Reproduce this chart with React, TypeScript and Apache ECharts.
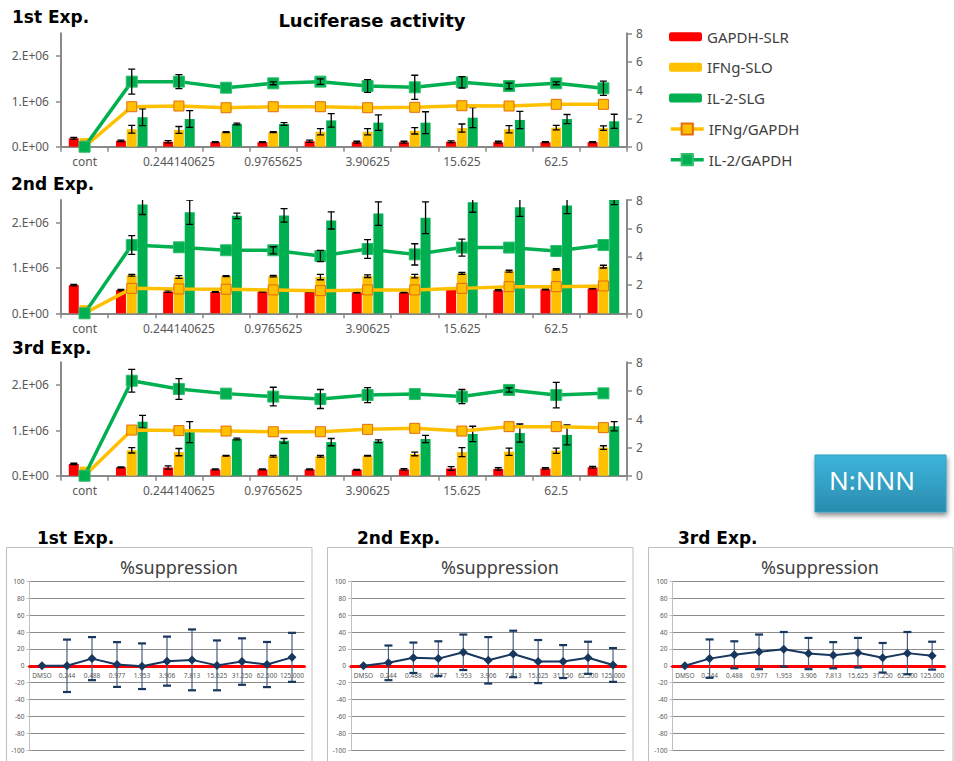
import React, { useEffect, useRef } from 'react';
import * as echarts from 'echarts';

// ---------- data ----------
const categories = ['cont', '0.1220703125', '0.244140625', '0.48828125', '0.9765625', '1.953125', '3.90625', '7.8125', '15.625', '31.25', '62.5', '125'];
const leftAxisTicks = [0, 1000000, 2000000];
const suppressionCats = ['DMSO', '0.244', '0.488', '0.977', '1.953', '3.906', '7.813', '15.625', '31.250', '62.500', '125.000'];

const exp1Gapdh = [185000, 130000, 110000, 100000, 100000, 120000, 100000, 100000, 110000, 100000, 100000, 100000];
const exp1GapdhErr = [20000, 15000, 25000, 10000, 10000, 25000, 20000, 20000, 20000, 20000, 10000, 10000];
const exp1Ifng = [190000, 385000, 370000, 320000, 320000, 330000, 330000, 350000, 410000, 385000, 420000, 410000];
const exp1IfngErr = [0, 85000, 75000, 10000, 10000, 70000, 70000, 70000, 90000, 80000, 50000, 50000];
const exp1Il2 = [0, 650000, 610000, 500000, 500000, 580000, 530000, 530000, 640000, 590000, 610000, 560000];
const exp1Il2Err = [0, 185000, 185000, 20000, 30000, 150000, 170000, 240000, 220000, 190000, 100000, 155000];
const exp1IfngRatio = [0, 2.82, 2.87, 2.75, 2.82, 2.82, 2.75, 2.78, 2.89, 2.87, 2.99, 2.99];
const exp1Il2Ratio = [0, 4.59, 4.59, 4.16, 4.47, 4.59, 4.28, 4.19, 4.54, 4.28, 4.47, 4.12];
const exp1Il2RatioErr = [0, 0.88, 0.5, 0, 0.1, 0.2, 0.45, 0.85, 0.4, 0.2, 0.1, 0.5];

const exp2Gapdh = [620000, 510000, 480000, 470000, 480000, 480000, 460000, 460000, 550000, 510000, 530000, 550000];
const exp2GapdhErr = [15000, 15000, 20000, 10000, 10000, 10000, 10000, 10000, 10000, 15000, 10000, 10000];
const exp2Ifng = [180000, 840000, 800000, 820000, 820000, 800000, 820000, 820000, 880000, 930000, 970000, 1030000];
const exp2IfngErr = [0, 20000, 30000, 10000, 15000, 60000, 30000, 40000, 20000, 20000, 15000, 30000];
const exp2Il2 = [0, 2400000, 2230000, 2150000, 2160000, 2050000, 2200000, 2110000, 2450000, 2340000, 2380000, 2600000];
const exp2Il2Err = [0, 220000, 270000, 60000, 150000, 190000, 260000, 350000, 220000, 200000, 180000, 200000];
const exp2IfngRatio = [0, 1.76, 1.72, 1.7, 1.65, 1.6, 1.65, 1.65, 1.76, 1.88, 1.88, 1.93];
const exp2Il2Ratio = [0, 4.82, 4.66, 4.45, 4.45, 4.05, 4.54, 4.16, 4.64, 4.64, 4.4, 4.82];
const exp2Il2RatioErr = [0, 0.66, 0, 0, 0.25, 0.4, 0.66, 0.75, 0.6, 0, 0, 0];

const exp3Gapdh = [260000, 185000, 180000, 140000, 140000, 140000, 130000, 140000, 160000, 150000, 160000, 185000];
const exp3GapdhErr = [15000, 10000, 35000, 10000, 10000, 10000, 10000, 15000, 40000, 25000, 15000, 20000];
const exp3Ifng = [200000, 560000, 520000, 440000, 430000, 430000, 440000, 480000, 520000, 530000, 550000, 620000];
const exp3IfngErr = [0, 60000, 80000, 10000, 20000, 20000, 10000, 40000, 100000, 80000, 60000, 40000];
const exp3Il2 = [0, 1190000, 960000, 810000, 770000, 740000, 760000, 810000, 920000, 940000, 900000, 1090000];
const exp3Il2Err = [0, 140000, 230000, 20000, 50000, 80000, 30000, 80000, 170000, 200000, 220000, 100000];
const exp3IfngRatio = [0, 3.22, 3.18, 3.15, 3.1, 3.1, 3.27, 3.34, 3.15, 3.46, 3.46, 3.39];
const exp3Il2Ratio = [0, 6.7, 6.12, 5.79, 5.58, 5.41, 5.69, 5.76, 5.58, 6.05, 5.69, 5.81];
const exp3Il2RatioErr = [0, 0.8, 0.73, 0, 0.66, 0.67, 0.53, 0, 0.5, 0.15, 0.9, 0];

const sup1 = [0, 0, 8.5, 1.5, -0.5, 5.5, 7, 0.5, 5, 1.5, 10];
const sup1Err = [0, 31, 25.5, 26.5, 27, 29, 36, 29.5, 27.5, 26.7, 29];
const sup2 = [0, 3.5, 9.5, 8.5, 16, 6.5, 14, 5, 5, 9.5, 1];
const sup2Err = [0, 20.5, 18, 20.5, 21, 27.5, 27.5, 25.5, 19.5, 19, 20];
const sup3 = [0, 8.5, 13, 16.5, 19.5, 14.5, 12.5, 15.5, 9.5, 15, 12];
const sup3Err = [0, 22.7, 16, 20.5, 20.5, 18.5, 15.5, 17.5, 17.5, 25, 16.5];

// ---------- styles ----------
const RED = '#FF0000';
const YEL = '#FFC000';
const GRN = '#00B050';
const AXIS = '#898989';
const LABEL = '#595959';
const NAVY = '#17375E';
const FONT = '"Noto Sans", sans-serif';
const HEAD = 'bold 17px "DejaVu Sans", sans-serif';
const BAR_W = 10;
const BAR_STEP = 10.8;

function errRender(offset: number, capHalf: number, color: string, lw: number, capLw: number, capColor: string) {
  return (params: any, api: any) => {
    const x = api.value(0);
    const v = api.value(1);
    const e = api.value(2);
    if (!e) return { type: 'group', children: [] };
    const top = api.coord([x, v + e]);
    const bot = api.coord([x, v - e]);
    const cx = top[0] + offset;
    return {
      type: 'group',
      children: [
        { type: 'line', shape: { x1: cx, y1: top[1], x2: cx, y2: bot[1] }, style: { stroke: color, lineWidth: lw } },
        { type: 'line', shape: { x1: cx - capHalf, y1: top[1], x2: cx + capHalf, y2: top[1] }, style: { stroke: capColor, lineWidth: capLw } },
        { type: 'line', shape: { x1: cx - capHalf, y1: bot[1], x2: cx + capHalf, y2: bot[1] }, style: { stroke: capColor, lineWidth: capLw } },
      ],
    };
  };
}

const toErrData = (vals: number[], errs: number[]) => vals.map((v, i) => [i, v, errs[i]]);

function expSeries(g: number, d: any) {
  const yl = g * 2;
  const yr = g * 2 + 1;
  const barBase = { type: 'bar', xAxisIndex: g, yAxisIndex: yl, barWidth: BAR_W, barGap: '8%', clip: true };
  const errBase = { type: 'custom', xAxisIndex: g, clip: true, z: 4, silent: true };
  return [
    { ...barBase, name: 'GAPDH-SLR', data: d.gapdh, itemStyle: { color: RED } },
    { ...barBase, name: 'IFNg-SLO', data: d.ifng, itemStyle: { color: YEL } },
    { ...barBase, name: 'IL-2-SLG', data: d.il2, itemStyle: { color: GRN } },
    { ...errBase, yAxisIndex: yl, data: toErrData(d.gapdh, d.gapdhErr), renderItem: errRender(-BAR_STEP, 3.5, '#000', 1.3, 1.3, '#000') },
    { ...errBase, yAxisIndex: yl, data: toErrData(d.ifng, d.ifngErr), renderItem: errRender(0, 3.5, '#000', 1.3, 1.3, '#000') },
    { ...errBase, yAxisIndex: yl, data: toErrData(d.il2, d.il2Err), renderItem: errRender(BAR_STEP, 3.5, '#000', 1.3, 1.3, '#000') },
    {
      name: 'IFNg/GAPDH', type: 'line', xAxisIndex: g, yAxisIndex: yr, data: d.ifngRatio, z: 5,
      symbol: 'rect', symbolSize: 10,
      lineStyle: { color: YEL, width: 3.5 },
      itemStyle: { color: YEL, borderColor: '#E46C0A', borderWidth: 1 },
    },
    {
      name: 'IL-2/GAPDH', type: 'line', xAxisIndex: g, yAxisIndex: yr, data: d.il2Ratio, z: 5,
      symbol: 'rect', symbolSize: 11,
      lineStyle: { color: GRN, width: 3.5 },
      itemStyle: { color: GRN, borderColor: '#2fbf6c', borderWidth: 1 },
    },
    { ...errBase, z: 6, yAxisIndex: yr, data: toErrData(d.il2Ratio, d.il2RatioErr), renderItem: errRender(0, 3.5, '#000', 1.3, 1.3, '#000') },
  ];
}

function supSeries(k: number, vals: number[], errs: number[]) {
  const gi = 3 + k;
  return [
    {
      type: 'custom', xAxisIndex: gi, yAxisIndex: 6 + k, data: toErrData(vals, errs), z: 3, silent: true,
      renderItem: errRender(0, 4, '#4a5f7d', 1.2, 2.2, NAVY),
    },
    {
      name: 'suppression ' + (k + 1), type: 'line', xAxisIndex: gi, yAxisIndex: 6 + k, data: vals, z: 4,
      symbol: 'diamond', symbolSize: 9,
      lineStyle: { color: NAVY, width: 2 }, itemStyle: { color: NAVY },
    },
  ];
}

const topGrids = [
  { left: 61, top: 33.3, width: 566, height: 113.4 },
  { left: 61, top: 200, width: 566, height: 113.3 },
  { left: 61, top: 362.3, width: 566, height: 113.4 },
];
const bottomGrids = [
  { left: 29.5, top: 581.3, width: 275, height: 169 },
  { left: 351, top: 581.3, width: 274.5, height: 169 },
  { left: 672.5, top: 581.3, width: 272, height: 169 },
];

function buildOption() {
  const xAxes: any[] = [];
  const yAxes: any[] = [];
  for (let g = 0; g < 3; g++) {
    xAxes.push({
      type: 'category', gridIndex: g, data: categories, boundaryGap: true,
      axisLine: { lineStyle: { color: AXIS, width: 2 } },
      axisTick: { show: true, interval: 0, length: 5, lineStyle: { color: AXIS, width: 1.5 } },
      axisLabel: { interval: 1, color: LABEL, fontSize: 12, margin: 9, fontFamily: FONT },
      splitLine: { show: false },
    });
  }
  for (let g = 0; g < 3; g++) {
    yAxes.push({
      type: 'value', gridIndex: g, position: 'left', min: 0, max: 2500000,
      axisLine: { show: true, lineStyle: { color: AXIS, width: 2 } },
      axisTick: { show: true, length: 5, customValues: leftAxisTicks, lineStyle: { color: AXIS, width: 1.5 } },
      axisLabel: {
        customValues: leftAxisTicks, color: LABEL, fontSize: 12, margin: 12, fontFamily: FONT,
        formatter: (v: number) => (v === 0 ? '0.E+00' : `${Math.round(v / 1000000)}.E+06`),
      },
      splitLine: { show: false },
    });
    yAxes.push({
      type: 'value', gridIndex: g, position: 'right', min: 0, max: 8, interval: 2,
      axisLine: { show: true, lineStyle: { color: AXIS, width: 2 } },
      axisTick: { show: true, length: 5, lineStyle: { color: AXIS, width: 1.5 } },
      axisLabel: { color: LABEL, fontSize: 12, margin: 9, fontFamily: FONT },
      splitLine: { show: false },
    });
  }
  for (let k = 0; k < 3; k++) {
    const h = bottomGrids[k].height;
    xAxes.push({
      type: 'category', gridIndex: 3 + k, data: suppressionCats, boundaryGap: true, z: 1,
      position: 'bottom', offset: -h / 2,
      axisLine: { onZero: false, lineStyle: { color: RED, width: 3 } },
      axisTick: { show: false },
      axisLabel: { interval: 0, color: LABEL, fontSize: 6.5, margin: 6, fontFamily: FONT },
    });
  }
  for (let k = 0; k < 3; k++) {
    yAxes.push({
      type: 'value', gridIndex: 3 + k, min: -100, max: 100, interval: 20, z: 0,
      axisLine: { show: true, lineStyle: { color: '#c0c0c0', width: 1 } },
      axisTick: { show: true, length: 3, lineStyle: { color: '#c0c0c0' } },
      axisLabel: { color: LABEL, fontSize: 6.5, margin: 5, fontFamily: FONT },
      splitLine: { show: true, lineStyle: { color: '#8c8c8c', width: 1 } },
    });
  }

  const exps = [
    { gapdh: exp1Gapdh, gapdhErr: exp1GapdhErr, ifng: exp1Ifng, ifngErr: exp1IfngErr, il2: exp1Il2, il2Err: exp1Il2Err, ifngRatio: exp1IfngRatio, il2Ratio: exp1Il2Ratio, il2RatioErr: exp1Il2RatioErr },
    { gapdh: exp2Gapdh, gapdhErr: exp2GapdhErr, ifng: exp2Ifng, ifngErr: exp2IfngErr, il2: exp2Il2, il2Err: exp2Il2Err, ifngRatio: exp2IfngRatio, il2Ratio: exp2Il2Ratio, il2RatioErr: exp2Il2RatioErr },
    { gapdh: exp3Gapdh, gapdhErr: exp3GapdhErr, ifng: exp3Ifng, ifngErr: exp3IfngErr, il2: exp3Il2, il2Err: exp3Il2Err, ifngRatio: exp3IfngRatio, il2Ratio: exp3Il2Ratio, il2RatioErr: exp3Il2RatioErr },
  ];
  const series: any[] = [];
  exps.forEach((d, g) => series.push(...expSeries(g, d)));
  series.push(...supSeries(0, sup1, sup1Err));
  series.push(...supSeries(1, sup2, sup2Err));
  series.push(...supSeries(2, sup3, sup3Err));

  const headText = (text: string, x: number, y: number) => ({
    type: 'text', x, y, silent: true,
    style: { text, font: HEAD, fill: '#000', textVerticalAlign: 'middle' },
  });
  const panelBox = (x: number, w: number) => ({
    type: 'rect', z: -10, silent: true,
    shape: { x, y: 547.5, width: w, height: 230 },
    style: { fill: '#fff', stroke: '#bfbfbf', lineWidth: 1 },
  });
  const supTitle = (cx: number) => ({
    type: 'text', x: cx, y: 566.7, silent: true,
    style: { text: '%suppression', font: '18px "Noto Sans", sans-serif', fill: '#404040', textAlign: 'center', textVerticalAlign: 'middle' },
  });

  return {
    animation: false,
    grid: [...topGrids, ...bottomGrids],
    xAxis: xAxes,
    yAxis: yAxes,
    legend: [
      {
        data: ['GAPDH-SLR', 'IFNg-SLO', 'IL-2-SLG'], orient: 'vertical', left: 669, top: 29.2, padding: 0,
        itemWidth: 33, itemHeight: 9, itemGap: 15.6, selectedMode: false,
        textStyle: { fontSize: 15, color: '#404040', fontFamily: FONT },
      },
      {
        data: [
          { name: 'IFNg/GAPDH', lineStyle: { width: 3.5 } },
          { name: 'IL-2/GAPDH', lineStyle: { width: 3.5 } },
        ],
        orient: 'vertical', left: 669, top: 121.5, padding: 0,
        itemWidth: 33, itemHeight: 14, itemGap: 15.7, selectedMode: false,
        textStyle: { fontSize: 15, color: '#404040', fontFamily: FONT },
      },
    ],
    graphic: [
      panelBox(6.5, 305.5),
      panelBox(327.5, 305.5),
      panelBox(648.5, 304.5),
      headText('1st Exp.', 12, 17),
      headText('2nd Exp.', 11, 184),
      headText('3rd Exp.', 12, 348),
      headText('1st Exp.', 37, 537.5),
      headText('2nd Exp.', 357, 537.5),
      headText('3rd Exp.', 678, 537.5),
      {
        type: 'text', x: 372, y: 20, silent: true,
        style: { text: 'Luciferase activity', font: 'bold 18px "DejaVu Sans", sans-serif', fill: '#000', textAlign: 'center', textVerticalAlign: 'middle' },
      },
      supTitle(179),
      supTitle(500),
      supTitle(820),
      {
        type: 'group', silent: true,
        children: [
          {
            type: 'rect', shape: { x: 815, y: 455, width: 131, height: 57 },
            style: {
              fill: new echarts.graphic.LinearGradient(0, 0, 0, 1, [
                { offset: 0, color: '#3DB5DC' },
                { offset: 1, color: '#2A8BAE' },
              ]),
              stroke: '#2f9fc5', lineWidth: 1,
              shadowBlur: 5, shadowOffsetX: 1, shadowOffsetY: 3, shadowColor: 'rgba(0,0,0,0.45)',
            },
          },
          {
            type: 'text', x: 829, y: 480,
            style: { text: 'N:NNN', font: '26px "Noto Sans", sans-serif', fill: '#ffffff', textVerticalAlign: 'middle' },
          },
        ],
      },
    ],
    series,
  };
}

export default function App() {
  const ref = useRef<HTMLDivElement>(null);
  useEffect(() => {
    if (!ref.current) return;
    const chart = echarts.init(ref.current, undefined, { renderer: 'svg' });
    chart.setOption(buildOption() as any);
    return () => chart.dispose();
  }, []);
  return <div ref={ref} style={{ position: 'absolute', left: 0, top: 0, width: 954, height: 761, background: '#fff' }} />;
}
